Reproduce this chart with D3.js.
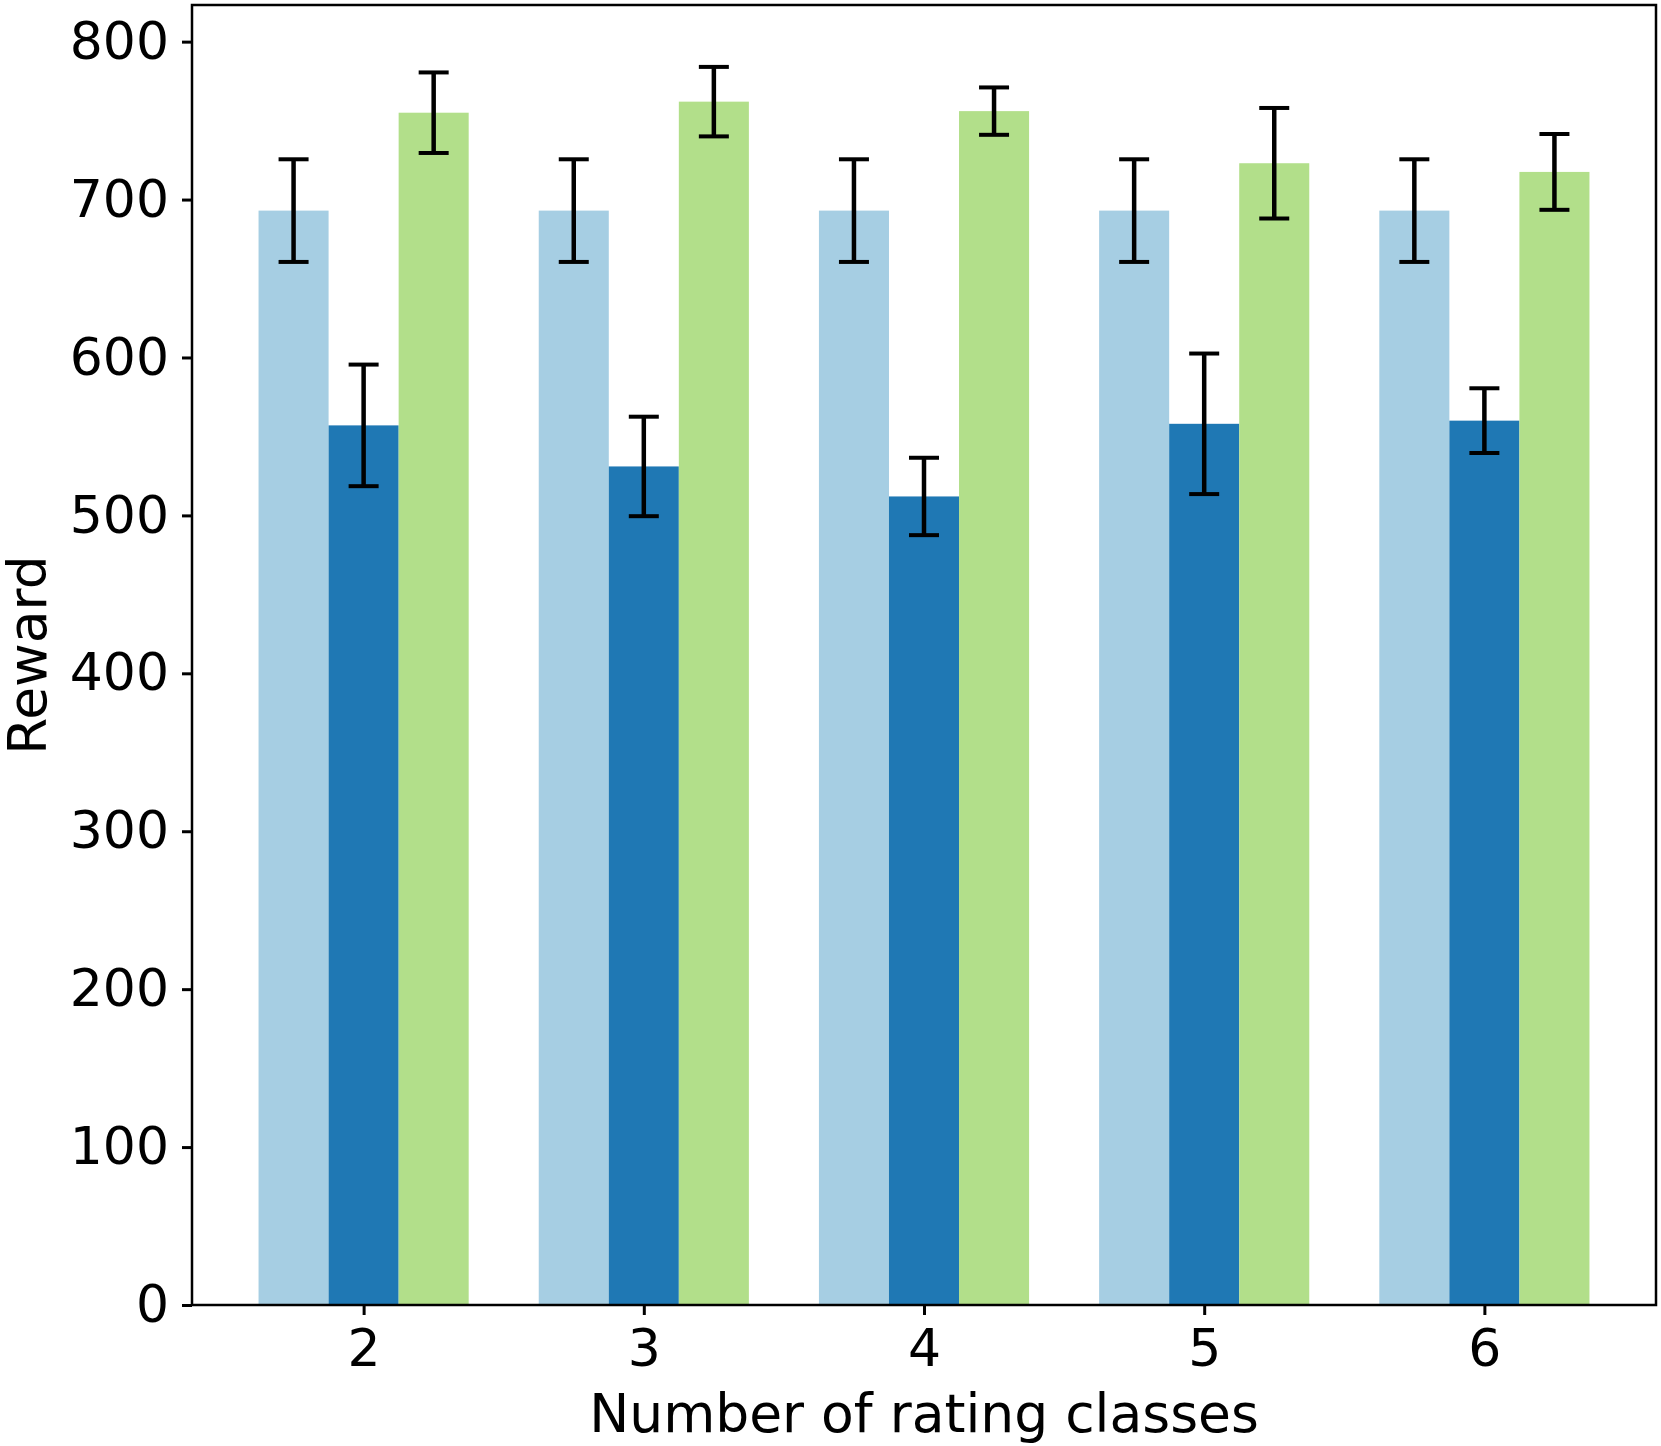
<!DOCTYPE html>
<html>
<head>
<meta charset="utf-8">
<script src="https://cdn.jsdelivr.net/npm/d3@7"></script>
<style>
  body { margin: 0; background: #fff; }
  text { font-family: "DejaVu Sans", sans-serif; }
</style>
</head>
<body>
<div id="chart"></div>
<script>
// chart size and plot area
const width = 1661;
const height = 1446;
const margin = {left: 192, right: 5, top: 5, bottom: 141};

// data
const categories = [2, 3, 4, 5, 6];
const seriesColors = ["#a6cee3", "#1f78b4", "#b2df8a"];
const baseline = [693, 693, 693, 693, 693];
const baselineErr = [32.5, 32.5, 32.5, 32.5, 32.5];
const methodA = [557, 531, 512, 558, 560];
const methodAErr = [38.5, 31.5, 24.5, 44.5, 20.5];
const methodB = [755, 762, 756, 723, 717.5];
const methodBErr = [25.5, 22, 15, 35, 24];
const yTicks = [0, 100, 200, 300, 400, 500, 600, 700, 800];

const series = [
  {values: baseline, errs: baselineErr, offset: -0.25},
  {values: methodA, errs: methodAErr, offset: 0},
  {values: methodB, errs: methodBErr, offset: 0.25}
];
const barW = 0.25;

const svg = d3.select("#chart")
  .append("svg")
  .attr("width", width)
  .attr("height", height);

// x scale: bars span [1.625, 6.375], plus 5% margin each side
const xLo = d3.min(categories) - 0.375;
const xHi = d3.max(categories) + 0.375;
const xPad = (xHi - xLo) * 0.05;
const xScale = d3.scaleLinear()
  .domain([xLo - xPad, xHi + xPad])
  .range([margin.left, width - margin.right]);

// y scale: top is 5% above the tallest error bar
let maxY = d3.max(series, s => d3.max(s.values, (v, i) => v + s.errs[i]));
const yScale = d3.scaleLinear()
  .domain([0, maxY * 1.05])
  .range([height - margin.bottom, margin.top]);

// bars
series.forEach((s, si) => {
  svg.append("g").selectAll("rect")
    .data(categories)
    .enter()
    .append("rect")
      .attr("x", d => xScale(d + s.offset - barW / 2))
      .attr("width", d => xScale(d + s.offset + barW / 2) - xScale(d + s.offset - barW / 2))
      .attr("y", (d, i) => yScale(s.values[i]))
      .attr("height", (d, i) => yScale(0) - yScale(s.values[i]))
      .attr("fill", seriesColors[si]);
});

// error bars
const cap = 15;
series.forEach(s => {
  const g = svg.append("g").attr("stroke", "#000").attr("stroke-width", 4);
  categories.forEach((c, i) => {
    const cx = xScale(c + s.offset);
    const yHi = yScale(s.values[i] + s.errs[i]);
    const yLo = yScale(s.values[i] - s.errs[i]);
    g.append("line").attr("x1", cx).attr("x2", cx).attr("y1", yHi).attr("y2", yLo).attr("stroke-width", 4.5);
    g.append("line").attr("x1", cx - cap).attr("x2", cx + cap).attr("y1", yHi).attr("y2", yHi);
    g.append("line").attr("x1", cx - cap).attr("x2", cx + cap).attr("y1", yLo).attr("y2", yLo);
  });
});

// axes
const yAxis = svg.append("g")
  .attr("transform", `translate(${margin.left},0)`)
  .call(d3.axisLeft(yScale).tickValues(yTicks).tickSize(10).tickPadding(13));
const xAxis = svg.append("g")
  .attr("transform", `translate(0,${height - margin.bottom})`)
  .call(d3.axisBottom(xScale).tickValues(categories).tickFormat(d3.format("d")).tickSize(10).tickPadding(14));

[xAxis, yAxis].forEach(ax => {
  ax.select(".domain").remove();
  ax.selectAll(".tick line").attr("stroke", "#000").attr("stroke-width", 3);
  ax.selectAll(".tick text")
    .attr("fill", "#000")
    .style("font-size", "52px")
    .style("font-family", "'DejaVu Sans', sans-serif");
});

// frame
svg.append("rect")
  .attr("x", margin.left)
  .attr("y", margin.top)
  .attr("width", width - margin.left - margin.right)
  .attr("height", height - margin.top - margin.bottom)
  .attr("fill", "none")
  .attr("stroke", "#000")
  .attr("stroke-width", 2.5);

// axis labels
svg.append("text")
  .attr("x", (margin.left + width - margin.right) / 2)
  .attr("y", 1432)
  .attr("text-anchor", "middle")
  .style("font-size", "53.5px")
  .text("Number of rating classes");

svg.append("text")
  .attr("transform", `translate(46,${(margin.top + height - margin.bottom) / 2}) rotate(-90)`)
  .attr("text-anchor", "middle")
  .style("font-size", "53.5px")
  .text("Reward");
</script>
</body>
</html>
